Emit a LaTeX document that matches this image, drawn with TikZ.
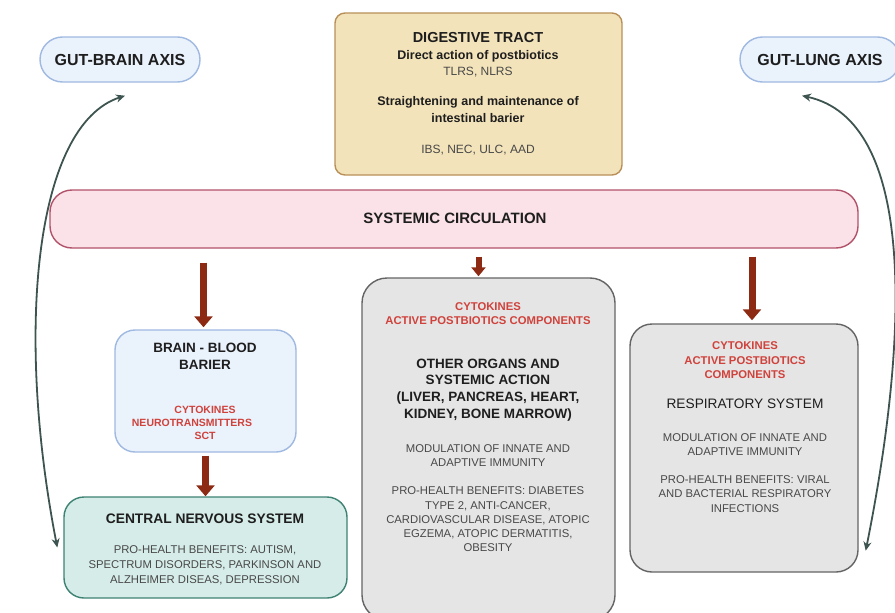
\documentclass[tikz,border=0pt]{standalone}
\usepackage{fontspec}
\setmainfont{Liberation Sans}
\usetikzlibrary{arrows.meta,shapes.misc}

\definecolor{digfill}{RGB}{243,227,186}
\definecolor{digline}{RGB}{184,143,88}
\definecolor{axisfill}{RGB}{234,242,252}
\definecolor{axisline}{RGB}{160,185,225}
\definecolor{circfill}{RGB}{251,226,232}
\definecolor{circline}{RGB}{178,82,106}
\definecolor{cnsfill}{RGB}{213,236,232}
\definecolor{cnsline}{RGB}{62,130,115}
\definecolor{organfill}{RGB}{229,229,229}
\definecolor{organline}{RGB}{100,100,100}
\definecolor{flowred}{RGB}{140,42,20}
\definecolor{labelred}{RGB}{208,66,60}
\definecolor{axisgray}{RGB}{62,84,80}
\definecolor{titlecol}{RGB}{30,30,30}
\definecolor{bodycol}{RGB}{72,72,72}

\tikzset{
  panel/.style={draw, line width=1.4pt, rounded corners=#1, inner sep=0pt},
  pill/.style={rounded rectangle, draw=axisline, fill=axisfill, line width=1.4pt,
    minimum width=160pt, minimum height=45pt, inner sep=0pt,
    font=\bfseries\fontsize{16}{18}\selectfont, text=titlecol},
  boxtitle/.style={font=\bfseries\fontsize{13.5}{16.7}\selectfont, text=titlecol, align=center, inner sep=0pt},
  bodytext/.style={font=\fontsize{11.3}{14.2}\selectfont, text=bodycol, align=center, inner sep=0pt},
  redtext/.style={font=\bfseries\fontsize{11.3}{14.6}\selectfont, text=labelred, align=center, inner sep=0pt},
  flowarrow/.style={draw=flowred, line width=7pt, -{Triangle[length=11pt,width=18pt]}},
  axisarrow/.style={draw=axisgray, line width=1.8pt, {Stealth[length=9pt,width=8pt]}-{Stealth[length=9pt,width=8pt]}}
}

\begin{document}
\begin{tikzpicture}[x=1pt,y=-1pt]
\useasboundingbox (0,0) rectangle (895,613);
\clip (0,0) rectangle (895,613);

%axis pills
\node[pill] (gba) at (120,59.5) {GUT-BRAIN AXIS};
\node[pill] (gla) at (820,59.5) {GUT-LUNG AXIS};

%digestive tract
\node[panel=10pt, draw=digline, fill=digfill, minimum width=287pt, minimum height=162pt] (dig) at (478.5,94) {};
\node[boxtitle, font=\bfseries\fontsize{14.5}{17}\selectfont] (digtitle) at (478,38) {DIGESTIVE TRACT};
\node[boxtitle, font=\bfseries\fontsize{12.5}{17}\selectfont] (digaction) at (478,56) {Direct action of postbiotics};
\node[bodytext, font=\fontsize{12}{17}\selectfont] (digreceptors) at (478,72) {TLRS, NLRS};
\node[boxtitle, font=\bfseries\fontsize{12.5}{17}\selectfont] (digbarrier) at (478,110) {Straightening and maintenance of\\intestinal barier};
\node[bodytext, font=\fontsize{12}{17}\selectfont] (digdiseases) at (478,150) {IBS, NEC, ULC, AAD};

%systemic circulation
\node[panel=22pt, draw=circline, fill=circfill, minimum width=808pt, minimum height=58pt] (circ) at (454,219) {};
\node[boxtitle, font=\bfseries\fontsize{15}{16}\selectfont] (circtitle) at (455,218) {SYSTEMIC CIRCULATION};

%brain - blood barier
\node[panel=20pt, draw=axisline, fill=axisfill, minimum width=181pt, minimum height=122pt] (bbb) at (205.5,391) {};
\node[boxtitle] (bbbtitle) at (205,356) {BRAIN - BLOOD\\BARIER};
\node[redtext, font=\bfseries\fontsize{10.5}{13}\selectfont] (bbbred) at (205,423) {CYTOKINES\\NEUROTRANSMITTERS\hbox to 26pt{}\\SCT};

%central nervous system
\node[panel=20pt, draw=cnsline, fill=cnsfill, minimum width=283pt, minimum height=101pt] (cns) at (205.5,547.5) {};
\node[boxtitle, font=\bfseries\fontsize{13.8}{16}\selectfont] (cnstitle) at (205,519) {CENTRAL NERVOUS SYSTEM};
\node[bodytext, font=\fontsize{11.3}{15}\selectfont] (cnsbody) at (205,565) {PRO-HEALTH BENEFITS: AUTISM,\\SPECTRUM DISORDERS, PARKINSON AND\\ALZHEIMER DISEAS, DEPRESSION};

%other organs
\node[panel=25pt, draw=organline, fill=organfill, minimum width=253pt, minimum height=342pt] (organs) at (488.5,449) {};
\node[redtext] (organsred) at (488,313.5) {CYTOKINES\\ACTIVE POSTBIOTICS COMPONENTS};
\node[boxtitle] (organstitle) at (488,390) {OTHER ORGANS AND\\SYSTEMIC ACTION\\(LIVER, PANCREAS, HEART,\\KIDNEY, BONE MARROW)};
\node[bodytext, font=\fontsize{11.3}{13.5}\selectfont] (organsimmun) at (488,455.5) {MODULATION OF INNATE AND\\ADAPTIVE IMMUNITY};
\node[bodytext] (organsbenefit) at (488,519.5) {PRO-HEALTH BENEFITS: DIABETES\\TYPE 2, ANTI-CANCER,\\CARDIOVASCULAR DISEASE, ATOPIC\\EGZEMA, ATOPIC DERMATITIS,\\OBESITY};

%respiratory system
\node[panel=22pt, draw=organline, fill=organfill, minimum width=228pt, minimum height=248pt] (resp) at (744,448) {};
\node[redtext] (respred) at (745,360.5) {CYTOKINES\\ACTIVE POSTBIOTICS\\COMPONENTS};
\node[boxtitle, font=\fontsize{13.7}{16}\selectfont] (resptitle) at (745,404) {RESPIRATORY SYSTEM};
\node[bodytext] (respimmun) at (745,445) {MODULATION OF INNATE AND\\ADAPTIVE IMMUNITY};
\node[bodytext] (respbenefit) at (745,494) {PRO-HEALTH BENEFITS: VIRAL\\AND BACTERIAL RESPIRATORY\\INFECTIONS};

%flows out of the circulation
\draw[flowarrow, shorten <=14pt, shorten >=2pt] ([xshift=-2pt]bbb.north |- circ.south) -- ([xshift=-2pt]bbb.north);
\draw[flowarrow, line width=6pt, -{Triangle[length=9pt,width=14pt]}, shorten <=8pt, shorten >=1pt] ([xshift=-10pt]organs.north |- circ.south) -- ([xshift=-10pt]organs.north);
\draw[flowarrow, shorten <=8pt, shorten >=3pt] ([xshift=8pt]resp.north |- circ.south) -- ([xshift=8pt]resp.north);
\draw[flowarrow, shorten <=3pt] (bbb.south) -- (cns.north);

%axis arrows
\draw[axisarrow] ([xshift=-6pt]cns.west) .. controls (15,330) and (35,125) .. ([shift={(5pt,-13pt)}]gba.south);
\draw[axisarrow] ([shift={(7pt,22pt)}]resp.south east) .. controls (910,330) and (915,120) .. ([shift={(-18pt,-13pt)}]gla.south);

\end{tikzpicture}
\end{document}
